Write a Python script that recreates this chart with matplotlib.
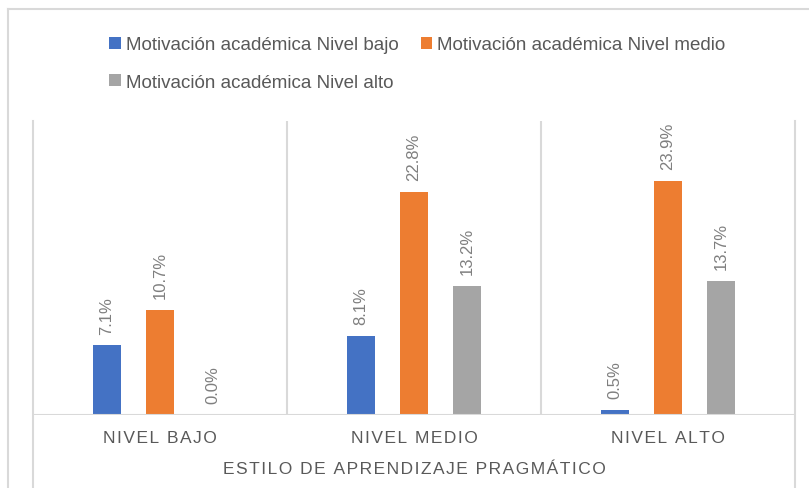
import numpy as np
import matplotlib.pyplot as plt
from matplotlib.lines import Line2D

categories = ['NIVEL BAJO', 'NIVEL MEDIO', 'NIVEL ALTO']
series = ['Motivación académica Nivel bajo',
          'Motivación académica Nivel medio',
          'Motivación académica Nivel alto']
bajo = [7.1, 8.1, 0.5]
medio = [10.7, 22.8, 23.9]
alto = [0.0, 13.2, 13.7]
axis_title = 'ESTILO DE APRENDIZAJE PRAGMÁTICO'

colors = ['#4472c4', '#ed7d31', '#a5a5a5']
grid_c = '#d9d9d9'
text_c = '#595959'
label_c = '#7f7f7f'

plt.rcParams['font.family'] = ['Liberation Sans', 'DejaVu Sans']


def spaced(s, sep='\u200a'):
    return sep.join(s)


W, H = 809, 489
fig = plt.figure(figsize=(W / 100, H / 100), dpi=100)
ax = fig.add_axes([33 / W, 1 - 416 / H, (795 - 33) / W, (416 - 122) / H])

x = np.arange(len(categories))
width = 0.107
offsets = [-0.209, 0.0, 0.209]
handles = []
for vals, off, col, name in zip([bajo, medio, alto], offsets, colors, series):
    b = ax.bar(x + off, vals, width, color=col, label=name, zorder=3)
    handles.append(b)
    for xi, v in zip(x + off, vals):
        ax.text(xi, v + 1.2, f'{v:.1f}%', rotation=90, ha='center', va='bottom',
                fontsize=12, color=label_c)

ax.set_xlim(-0.5, 2.5)
ax.set_ylim(0, 30)
for s in ax.spines.values():
    s.set_visible(False)
ax.set_yticks([])
ax.set_xticks(x)
ax.set_xticklabels([spaced(c) for c in categories], fontsize=12.5, color=text_c)
ax.tick_params(axis='x', length=0, pad=11)
ax.set_xlabel(spaced(axis_title), fontsize=12.5, color=text_c, labelpad=11)

# category separators and axis line
ext = (H - 416) / (416 - 122)
ax.axhline(0, color=grid_c, lw=1.5, zorder=4)
for b in [0.5, 1.5]:
    ax.axvline(b, color=grid_c, lw=1.5, zorder=1)
for b in [-0.5, 2.5]:
    ax.axvline(b, ymin=-ext, ymax=1, color=grid_c, lw=1.5, clip_on=False, zorder=1)

# outer chart border
fig.add_artist(Line2D([8 / W, 8 / W], [0, 1 - 10 / H], color=grid_c, lw=1.5))
fig.add_artist(Line2D([8 / W, 1], [1 - 10 / H, 1 - 10 / H], color=grid_c, lw=1.5))

order = [0, 2, 1]
leg = fig.legend([handles[i] for i in order], [series[i] for i in order],
                 ncol=2, loc='upper left', bbox_to_anchor=(100 / W, 1 - 28 / H),
                 frameon=False, fontsize=13.5, labelcolor=text_c,
                 handlelength=0.6, handleheight=0.6, handletextpad=0.3,
                 columnspacing=1.15, labelspacing=1.1, borderpad=0)

fig.savefig('out.png', dpi=100)
